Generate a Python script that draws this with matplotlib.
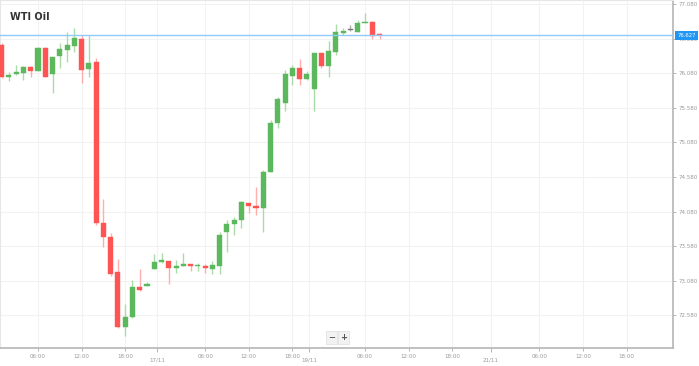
import matplotlib
matplotlib.use("Agg")
import matplotlib.pyplot as plt
from matplotlib.patches import Rectangle

# hourly candles, WTI Oil
opens = [76.488, 76.025, 76.068, 76.083, 76.170, 76.112, 76.444, 76.068, 76.329, 76.415,
         76.473, 76.574, 76.141, 76.242, 73.915, 73.713, 73.207, 72.412, 72.557, 72.990,
         73.005, 73.250, 73.352, 73.366, 73.265, 73.294, 73.323, 73.301, 73.298, 73.250,
         73.294, 73.785, 73.900, 73.958, 74.204, 74.161, 74.132, 74.652, 75.360, 75.649,
         76.040, 76.155, 75.996, 75.852, 76.372, 76.184, 76.386, 76.661, 76.704, 76.675,
         76.805, 76.820, 76.646]
highs = [76.516, 76.097, 76.198, 76.184, 76.184, 76.459, 76.459, 76.314, 76.516, 76.675,
         76.733, 76.632, 76.632, 76.300, 74.262, 73.771, 73.395, 72.745, 73.091, 73.250,
         73.063, 73.467, 73.482, 73.366, 73.381, 73.482, 73.323, 73.337, 73.323, 73.366,
         73.785, 73.958, 74.002, 74.233, 74.204, 74.435, 74.681, 75.404, 75.736, 76.126,
         76.198, 76.285, 76.112, 76.372, 76.372, 76.545, 76.791, 76.733, 76.777, 76.849,
         76.950, 76.834, 76.661]
lows = [76.011, 75.967, 76.054, 75.982, 76.025, 76.112, 76.025, 75.794, 76.155, 76.242,
        76.386, 75.938, 76.025, 73.886, 73.568, 73.149, 72.398, 72.282, 72.542, 72.933,
        73.005, 73.250, 73.337, 73.034, 73.193, 73.294, 73.222, 73.222, 73.193, 73.178,
        73.178, 73.496, 73.742, 73.843, 74.060, 74.031, 73.785, 74.652, 75.288, 75.534,
        75.909, 75.909, 75.982, 75.534, 76.155, 76.025, 76.343, 76.632, 76.690, 76.675,
        76.805, 76.574, 76.574]
closes = [76.025, 76.054, 76.097, 76.170, 76.112, 76.444, 76.025, 76.314, 76.430, 76.488,
          76.589, 76.126, 76.227, 73.915, 73.713, 73.178, 72.412, 72.557, 72.990, 72.947,
          73.034, 73.352, 73.381, 73.265, 73.294, 73.323, 73.294, 73.309, 73.265, 73.308,
          73.742, 73.900, 73.958, 74.219, 74.161, 74.132, 74.652, 75.360, 75.707, 76.068,
          76.155, 75.996, 76.068, 76.372, 76.184, 76.401, 76.675, 76.690, 76.704, 76.805,
          76.820, 76.618, 76.632]

last_price = 76.627
price_ticks = [72.58, 73.08, 73.58, 74.08, 74.58, 75.08, 75.58, 76.08, 76.58, 77.08]

time_pos = [5, 11, 17, 28, 34, 40, 50, 56, 62, 74, 80, 86]
time_labels = ["06:00", "12:00", "18:00", "06:00", "12:00", "18:00",
               "06:00", "12:00", "18:00", "06:00", "12:00", "18:00"]
date_pos = [21.4, 42.3, 67.3]
date_labels = ["17/11", "19/11", "21/11"]

GREEN = "#5cb85c"
RED = "#ff5454"
GREEN_WICK = "#a9dca9"
RED_WICK = "#ffadad"
GRID = "#f2f2f2"
TXT = "#9a9a9a"

fig = plt.figure(figsize=(6.99, 3.66), dpi=100)
ax = fig.add_axes([0.0, 0.049, 0.963, 0.951])

w = 0.7
for i, (o, h, l, c) in enumerate(zip(opens, highs, lows, closes)):
    if c > o:
        col, wick = GREEN, GREEN_WICK
    elif c < o:
        col, wick = RED, RED_WICK
    else:
        col, wick = "#777777", "#aaaaaa"
    ax.plot([i, i], [l, h], color=wick, lw=1.0, zorder=2, solid_capstyle="butt")
    lo, hi = min(o, c), max(o, c)
    ax.add_patch(Rectangle((i - w / 2, lo), w, max(hi - lo, 0.012),
                           facecolor=col, edgecolor=col, lw=0.3, zorder=3))

# last price line + label
ax.axhline(last_price, color="#90caf9", lw=1.0, zorder=4)
ax.annotate(f"{last_price:.3f}", xy=(1.0, last_price), xycoords=("axes fraction", "data"),
            xytext=(3, 0), textcoords="offset points", ha="left", va="center",
            fontsize=3.8, color="white", annotation_clip=False,
            bbox=dict(boxstyle="square,pad=0.35", fc="#2196f3", ec="none"))

ax.set_xlim(-0.23, 92.4)
ax.set_ylim(72.109, 77.138)

# axes look
ax.yaxis.tick_right()
ax.set_yticks(price_ticks)
ax.set_yticklabels([f"{v:.3f}" for v in price_ticks])
ax.set_xticks(time_pos)
ax.set_xticklabels(time_labels)
ax.set_xticks(date_pos, minor=True)
ax.set_xticklabels(date_labels, minor=True)
ax.tick_params(axis="y", labelsize=4, colors=TXT, length=2, width=0.5, pad=2)
ax.tick_params(axis="x", which="major", labelsize=4, colors=TXT, length=2, width=0.5, pad=2)
ax.tick_params(axis="x", which="minor", labelsize=4, colors=TXT, length=3, width=0.5, pad=3.5)
ax.grid(True, which="both", color=GRID, lw=0.8, zorder=0)
ax.set_axisbelow(True)

for side in ("left", "top"):
    ax.spines[side].set_color("#e6e6e6")
    ax.spines[side].set_linewidth(0.8)
for side in ("right", "bottom"):
    ax.spines[side].set_color("#b5b5b5")
    ax.spines[side].set_linewidth(1.2)

ax.text(0.015, 0.965, "WTI Oil", transform=ax.transAxes, fontsize=7,
        fontweight="bold", color="#333333", va="top", ha="left")

# zoom buttons
for xf, sym in ((0.492, "\u2212"), (0.510, "+")):
    ax.text(xf, 0.03, sym, transform=ax.transAxes, fontsize=6, fontweight="bold",
            color="#555555", ha="center", va="center",
            bbox=dict(boxstyle="square,pad=0.25", fc="#f2f2f2", ec="#dddddd", lw=0.5))

fig.savefig("out.png", dpi=100)
